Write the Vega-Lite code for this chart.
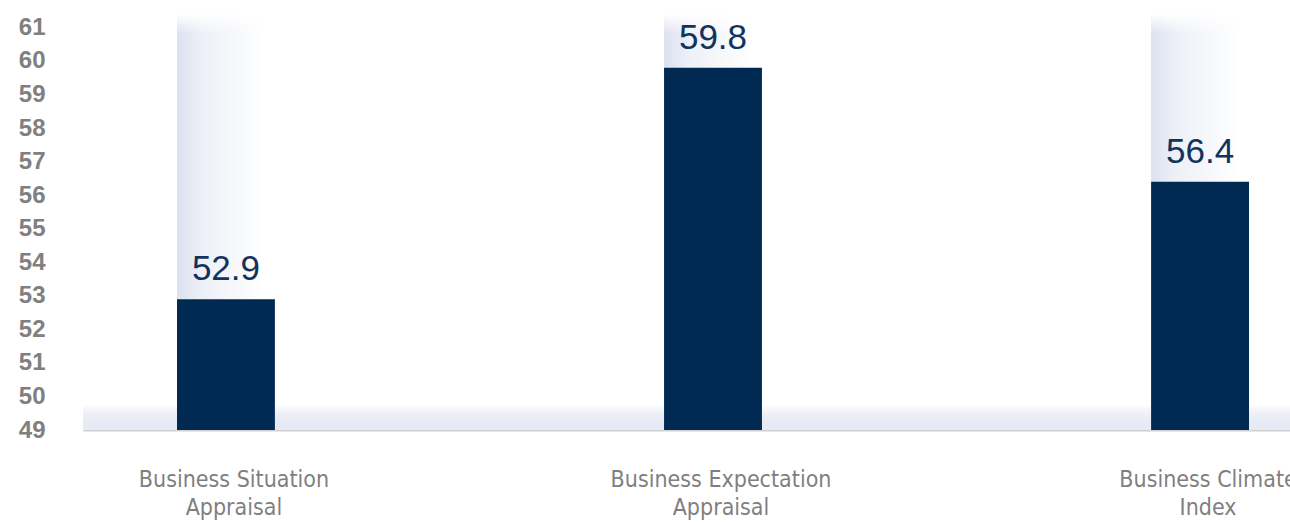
{
  "$schema": "https://vega.github.io/schema/vega-lite/v6.json",
  "autosize": "none",
  "width": 1260,
  "height": 416,
  "padding": {"left": 83, "top": 14, "right": 0, "bottom": 93},
  "background": "white",
  "config": {
    "view": {"stroke": null},
    "axisY": {
      "grid": false, "domain": false, "ticks": false, "labelOverlap": false, "tickCount": 13,
      "labelFont": "Liberation Sans", "labelFontWeight": "bold", "labelFontSize": 24,
      "labelColor": "#808080", "labelPadding": 38
    }
  },
  "data": {"values": [
    {"indicator": "Business Situation Appraisal", "value": 52.9},
    {"indicator": "Business Expectation Appraisal", "value": 59.8},
    {"indicator": "Business Climate Index", "value": 56.4}
  ]},
  "encoding": {
    "x": {
      "field": "indicator", "type": "nominal", "sort": null, "title": null,
      "scale": {"paddingInner": 0.799, "paddingOuter": 0.193},
      "axis": {
        "labelAngle": 0, "ticks": false, "domainColor": "#cfcfcf", "domainWidth": 2,
        "labelFont": "Liberation Sans Narrow, DejaVu Sans Condensed, Roboto", "labelFontSize": 23, "labelColor": "#7f7f7f",
        "labelLineHeight": 28, "labelPadding": 38, "labelBaseline": "top", "labelOverlap": false, "labelLimit": 500,
        "labelOffset": 8,
        "labelExpr": "[slice(datum.label, 0, lastindexof(datum.label, ' ')), slice(datum.label, lastindexof(datum.label, ' ') + 1)]"
      }
    }
  },
  "layer": [
    {
      "mark": {"type": "bar", "fill": {"gradient": "linear", "x1": 0, "y1": 0, "x2": 1, "y2": 0,
        "stops": [{"offset": 0, "color": "#dce1f0"}, {"offset": 0.25, "color": "#edf0f7"}, {"offset": 0.9, "color": "#ffffff"}]}},
      "encoding": {"y": {"datum": 61.4, "type": "quantitative", "title": null}, "y2": {"datum": 49}}
    },
    {
      "mark": {"type": "bar", "fill": {"gradient": "linear", "x1": 0, "y1": 0, "x2": 0, "y2": 1,
        "stops": [{"offset": 0, "color": "#ffffff"}, {"offset": 1, "color": "rgba(255,255,255,0)"}]}},
      "encoding": {"y": {"datum": 61.4, "type": "quantitative", "title": null}, "y2": {"datum": 60.8}}
    },
    {
      "mark": {"type": "rect", "fill": {"gradient": "linear", "x1": 0, "y1": 0, "x2": 0, "y2": 1,
        "stops": [{"offset": 0, "color": "rgba(232,235,245,0)"}, {"offset": 1, "color": "#e7eaf4"}]}},
      "encoding": {
        "x": {"value": 0}, "x2": {"value": {"expr": "width"}},
        "y": {"datum": 49.75, "type": "quantitative", "title": null}, "y2": {"datum": 49}
      }
    },
    {
      "mark": {"type": "bar", "color": "#002a52"},
      "encoding": {
        "y": {
          "field": "value", "type": "quantitative", "title": null,
          "scale": {"domain": [49, 61.4], "zero": false, "nice": false}
        },
        "y2": {"datum": 49}
      }
    },
    {
      "mark": {"type": "text", "font": "Liberation Sans", "fontSize": 35, "color": "#12335c", "baseline": "alphabetic", "dy": -19},
      "encoding": {
        "y": {"field": "value", "type": "quantitative", "title": null},
        "text": {"field": "value", "type": "quantitative", "format": ".1f"}
      }
    }
  ]
}
